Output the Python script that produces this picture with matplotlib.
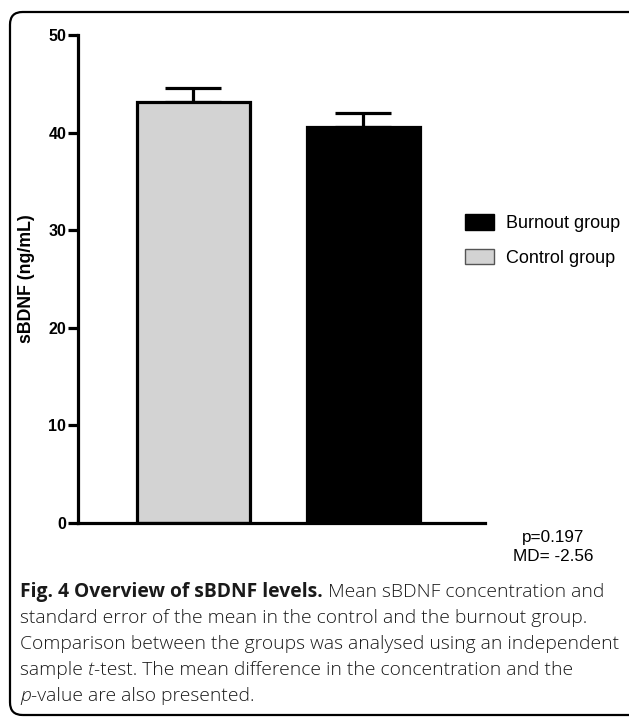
import matplotlib
matplotlib.use("Agg")
import matplotlib.pyplot as plt
from matplotlib.patches import FancyBboxPatch, Patch

categories = ["Control group", "Burnout group"]
means = [43.1, 40.6]
sem = [1.5, 1.4]
colors = ["#d3d3d3", "#000000"]
yticks = [0, 10, 20, 30, 40, 50]
p_text = "p=0.197"
md_text = "MD= -2.56"

W, H = 629, 719
fig = plt.figure(figsize=(W / 100, H / 100), dpi=100)

# rounded frame
frame = FancyBboxPatch((10 / W, 4 / H), 640 / W, (H - 16) / H,
                       boxstyle="round,pad=0,rounding_size=0.02",
                       transform=fig.transFigure, fill=False,
                       edgecolor="black", linewidth=1.6, mutation_aspect=W / H)
fig.add_artist(frame)

ax = fig.add_axes([78 / W, 1 - 523 / H, (485 - 78) / W, (523 - 35) / H])
x = [0, 1]
ax.bar(x, means, width=0.665, color=colors, edgecolor="black", linewidth=2.3, zorder=2)
ax.errorbar(x, means, yerr=[[0, 0], sem], fmt="none", ecolor="black",
            elinewidth=2.3, capsize=20.5, capthick=2.3, zorder=1)
ax.set_xlim(-0.679, 1.715)
ax.set_ylim(0, 50)
ax.set_yticks(yticks)
ax.set_xticks([])
for s in ["top", "right"]:
    ax.spines[s].set_visible(False)
for s in ["left", "bottom"]:
    ax.spines[s].set_linewidth(2.3)
ax.tick_params(axis="y", length=7, width=2.3, direction="out", pad=1.5)
for lab in ax.get_yticklabels():
    lab.set_fontfamily("Liberation Sans")
    lab.set_fontweight("bold")
    lab.set_fontsize(11.5)
ax.set_ylabel("sBDNF (ng/mL)", fontfamily="Liberation Sans", fontweight="bold",
              fontsize=12.8)
ax.yaxis.set_label_coords((27 - 78) / (485 - 78), 0.5)
ax.yaxis.label.set_va("center")

handles = [Patch(facecolor="#000000", edgecolor="#000000", label="Burnout group"),
           Patch(facecolor="#d3d3d3", edgecolor="#555555", label="Control group")]
fig.legend(handles=handles, loc="upper left", bbox_to_anchor=(465 / W, 1 - 214 / H),
           frameon=False, prop={"family": "Liberation Sans", "size": 13},
           handlelength=1.6, handleheight=0.95, labelspacing=0.92, handletextpad=0.65,
           borderpad=0, borderaxespad=0)

fig.text(553 / W, 1 - 542 / H, p_text, ha="center", va="baseline",
         fontfamily="Liberation Sans", fontsize=12.3)
fig.text(553 / W, 1 - 561 / H, md_text, ha="center", va="baseline",
         fontfamily="Liberation Sans", fontsize=12.3)

# caption with mixed styles
cap_lines = [
    [("Fig. 4 Overview of sBDNF levels.", "bold", "normal"), (" Mean sBDNF concentration and", "light", "normal")],
    [("standard error of the mean in the control and the burnout group.", "light", "normal")],
    [("Comparison between the groups was analysed using an independent", "light", "normal")],
    [("sample ", "light", "normal"), ("t", "light", "italic"), ("-test. The mean difference in the concentration and the", "light", "normal")],
    [("p", "light", "italic"), ("-value are also presented.", "light", "normal")],
]
renderer = fig.canvas.get_renderer()
cap_size = 13.9
y0 = 597
dy = 26.0
for i, segs in enumerate(cap_lines):
    xpix = 20
    ypix = y0 + i * dy
    for txt, wt, st in segs:
        t = fig.text(xpix / W, 1 - ypix / H, txt, ha="left", va="baseline",
                     fontfamily="Open Sans", fontweight=wt, fontstyle=st,
                     fontsize=cap_size, color="#1a1a1a")
        bb = t.get_window_extent(renderer=renderer)
        xpix += bb.width

fig.savefig("out.png", dpi=100)
